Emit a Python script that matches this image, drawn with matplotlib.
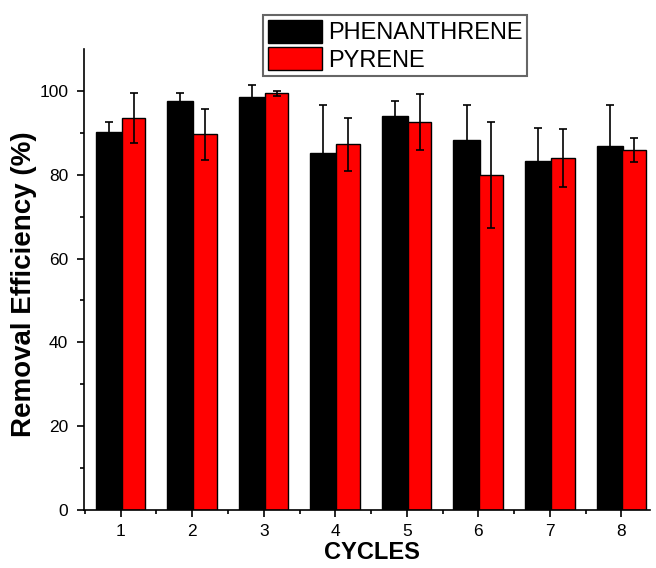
import numpy as np
import matplotlib
matplotlib.use('Agg')
import matplotlib.pyplot as plt
from matplotlib.ticker import FixedLocator

plt.rcParams['font.family'] = ['Liberation Sans', 'DejaVu Sans']

cycles = [1, 2, 3, 4, 5, 6, 7, 8]
phenanthrene = [90.3, 97.7, 98.6, 85.1, 93.9, 88.4, 83.2, 86.9]
phenanthrene_err = [2.2, 1.8, 2.8, 11.6, 3.6, 8.3, 7.9, 9.8]
pyrene = [93.5, 89.6, 99.4, 87.3, 92.5, 79.9, 84.0, 85.9]
pyrene_err = [6.0, 6.0, 0.5, 6.3, 6.7, 12.6, 7.0, 2.8]

fig = plt.figure(figsize=(6.56, 5.68), dpi=100)
ax = fig.add_axes([83.5/656, 1 - 510/568, (650 - 83.5)/656, (510 - 49)/568])

x = np.array(cycles, dtype=float)
err_kw = dict(ecolor='black', elinewidth=1.2, capsize=3, capthick=1.2)
ax.bar(x - 0.165, phenanthrene, width=0.365, color='black', edgecolor='black',
       linewidth=1, yerr=phenanthrene_err, error_kw=err_kw, label='PHENANTHRENE')
ax.bar(x + 0.18, pyrene, width=0.33, color='#ff0000', edgecolor='black',
       linewidth=1, yerr=pyrene_err, error_kw=err_kw, label='PYRENE')

ax.set_xlim(0.48, 8.4)
ax.set_ylim(0, 110)
ax.spines['top'].set_visible(False)
ax.spines['right'].set_visible(False)
for s in ['left', 'bottom']:
    ax.spines[s].set_linewidth(1.2)

ax.set_xticks(cycles)
ax.xaxis.set_minor_locator(FixedLocator(np.arange(0.5, 8.5, 1.0)))
ax.set_yticks([0, 20, 40, 60, 80, 100])
ax.yaxis.set_minor_locator(FixedLocator([10, 30, 50, 70, 90]))
ax.tick_params(which='major', direction='out', length=5, width=1.2, labelsize=12.5)
ax.tick_params(axis='y', which='major', pad=6)
ax.tick_params(axis='x', which='major', pad=5)
ax.tick_params(which='minor', direction='out', length=3, width=1.2)

ax.set_ylabel('Removal Efficiency (%)', fontsize=20, fontweight='bold')
ax.yaxis.set_label_coords((37 - 83.5) / 566.5, 0.5 - 5 / 461)
ax.set_xlabel('CYCLES', fontsize=17, fontweight='bold')
ax.xaxis.set_label_coords(0.5 + 5 / 566.5, (510 - 541) / 461)

leg = fig.legend(loc='upper left', bbox_to_anchor=(263/656, 1 - 15/568),
                 fontsize=17, frameon=True, fancybox=False, borderpad=0.2,
                 handlelength=2.3, handleheight=1.15, handletextpad=0.25,
                 labelspacing=0.1, borderaxespad=0)
leg.get_frame().set_edgecolor('#404040')
leg.get_frame().set_linewidth(1.5)

fig.savefig('out.png', dpi=100)
